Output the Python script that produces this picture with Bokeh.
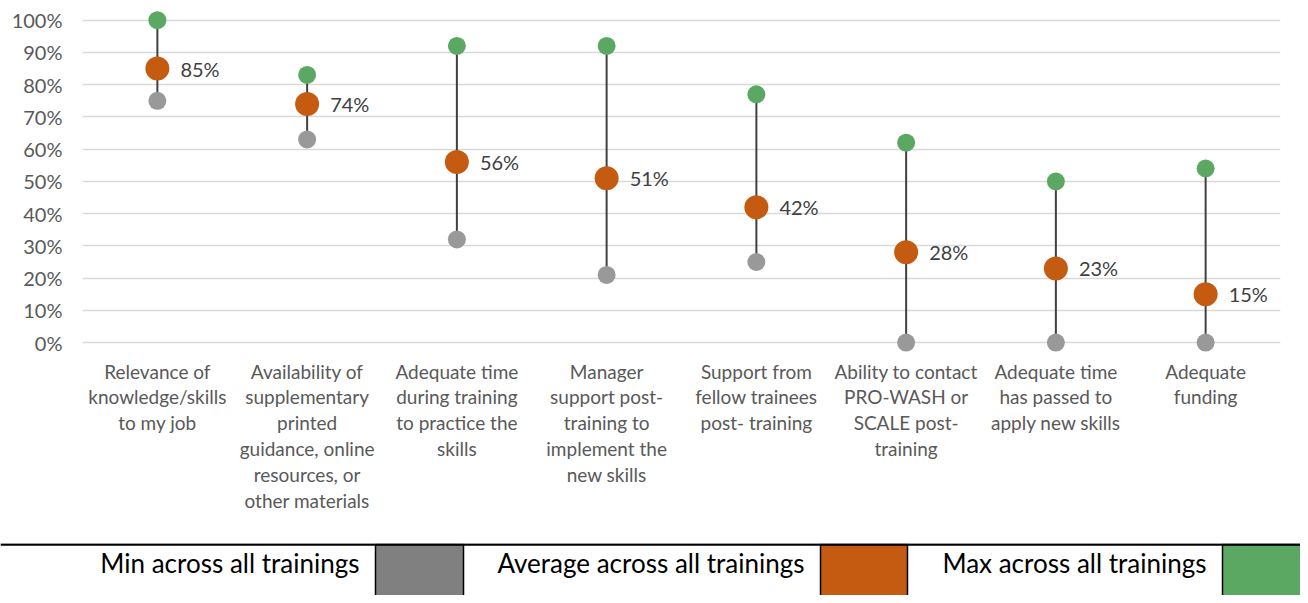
from bokeh.plotting import figure
from bokeh.models import Range1d, FactorRange, NumeralTickFormatter, ColumnDataSource, FixedTicker
from bokeh.layouts import column
from bokeh.embed import file_html
from bokeh.resources import INLINE
from bokeh.core.properties import value

categories = [
    "Relevance of\nknowledge/skills\nto my job",
    "Availability of\nsupplementary\nprinted\nguidance, online\nresources, or\nother materials",
    "Adequate time\nduring training\nto practice the\nskills",
    "Manager\nsupport post-\ntraining to\nimplement the\nnew skills",
    "Support from\nfellow trainees\npost- training",
    "Ability to contact\nPRO-WASH or\nSCALE post-\ntraining",
    "Adequate time\nhas passed to\napply new skills",
    "Adequate\nfunding",
]
min_vals = [0.75, 0.63, 0.32, 0.21, 0.25, 0.0, 0.0, 0.0]
avg_vals = [0.85, 0.74, 0.56, 0.51, 0.42, 0.28, 0.23, 0.15]
max_vals = [1.00, 0.83, 0.92, 0.92, 0.77, 0.62, 0.50, 0.54]
series_names = ["Min across all trainings", "Average across all trainings", "Max across all trainings"]
y_ticks = [0.0, 0.1, 0.2, 0.3, 0.4, 0.5, 0.6, 0.7, 0.8, 0.9, 1.0]

FONT = "Lato"
GREEN = "#5BA862"
ORANGE = "#C55A11"
GRAY_DOT = "#999999"
GRAY_BOX = "#808080"

src = ColumnDataSource(dict(
    x=categories, lo=min_vals, mid=avg_vals, hi=max_vals,
    lab=[f"{round(v*100):d}%" for v in avg_vals],
))

W = 1300
p = figure(width=W, height=543, x_range=FactorRange(*categories, range_padding=0),
           y_range=Range1d(-0.04, 1.03), output_backend="svg", toolbar_location=None,
           min_border_left=82, min_border_right=20, min_border_top=10, min_border_bottom=188)
p.outline_line_color = None
p.background_fill_color = "white"
p.border_fill_color = "white"

p.segment(x0="x", y0="lo", x1="x", y1="hi", source=src, line_color="#404040", line_width=2)
p.scatter(x="x", y="lo", source=src, size=18, fill_color=GRAY_DOT, line_color=None)
p.scatter(x="x", y="hi", source=src, size=18, fill_color=GREEN, line_color=None)
p.scatter(x="x", y="mid", source=src, size=24, fill_color=ORANGE, line_color=None)
p.text(x="x", y="mid", text="lab", source=src, x_offset=23, text_baseline="middle",
       text_align="left", text_font=value(FONT), text_font_size="20px", text_color="#404040")

p.xgrid.grid_line_color = None
p.ygrid.grid_line_color = "#d9d9d9"
p.ygrid.grid_line_width = 1.5
p.yaxis.ticker = FixedTicker(ticks=y_ticks)
p.yaxis.formatter = NumeralTickFormatter(format="0%")
for ax in (p.xaxis[0], p.yaxis[0]):
    ax.axis_line_color = None
    ax.major_tick_line_color = None
    ax.minor_tick_line_color = None
    ax.major_tick_out = 0
    ax.major_tick_in = 0
    ax.major_label_text_font = FONT
    ax.major_label_text_color = "#595959"
p.yaxis.major_label_text_font_size = "20px"
p.xaxis.major_label_text_font_size = "19px"
p.yaxis.major_label_standoff = 20
p.xaxis.major_label_standoff = 4
p.xaxis.major_label_text_line_height = 1.13
p.xaxis.major_label_orientation = "horizontal"

# legend table
leg = figure(width=W, height=52, x_range=Range1d(0, W), y_range=Range1d(0, 52),
             output_backend="svg", toolbar_location=None, min_border=0,
             min_border_left=0, min_border_right=0, min_border_top=0, min_border_bottom=0)
leg.outline_line_color = None
leg.axis.visible = False
leg.grid.visible = False
leg.border_fill_color = "white"
box_left = [375, 820, 1222]
box_right = [463, 907, 1310]
colors = [GRAY_BOX, ORANGE, GREEN]
leg.quad(left=box_left, right=box_right, bottom=[-5]*3, top=[51]*3,
         fill_color=colors, line_color="black", line_width=1.5)
leg.segment(x0=[0], y0=[51], x1=[W], y1=[51], line_color="black", line_width=2.5)
leg.text(x=[l - 16 for l in box_left], y=[33]*3, text=series_names, text_align="right",
         text_baseline="middle", text_font=value(FONT), text_font_size="26px", text_color="black")

for fig in (p, leg):
    try:
        fig.frame_align = False
    except Exception:
        pass

layout = column(p, leg, spacing=0)
open("out.html", "w").write(file_html(layout, INLINE))
